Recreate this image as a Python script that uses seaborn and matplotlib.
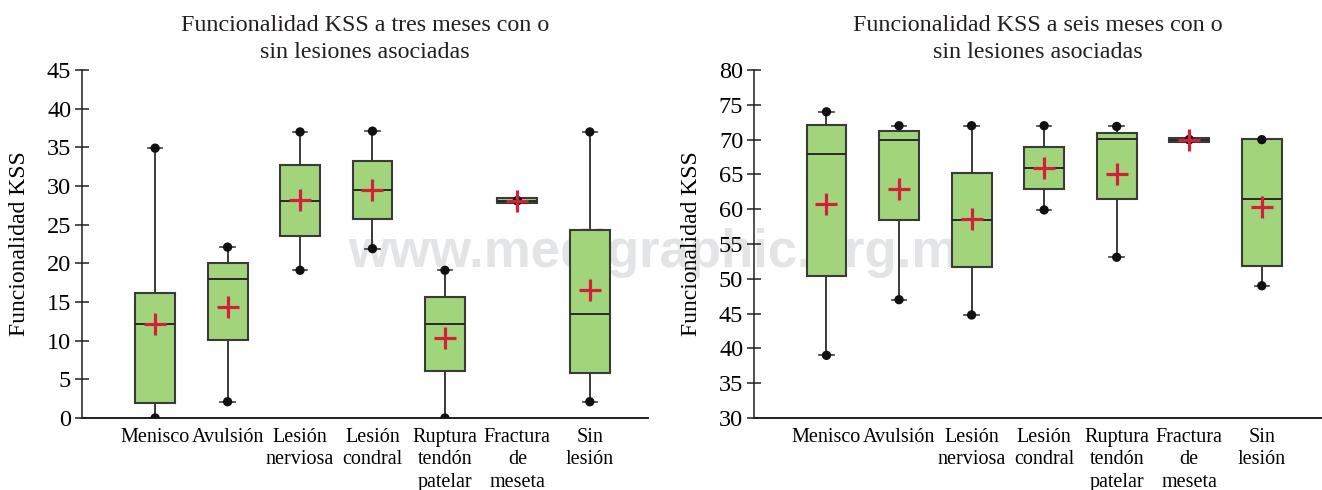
import numpy as np
import matplotlib.pyplot as plt
import pandas as pd
import seaborn as sns

# categories (x tick labels)
groups = ["Menisco", "Avulsión", "Lesión\nnerviosa", "Lesión\ncondral",
          "Ruptura\ntendón\npatelar", "Fractura\nde\nmeseta", "Sin\nlesión"]

# values: whisker ends (dots), Q1, median, Q3, mean
tres_min = [0.0, 2.1, 19.1, 21.9, 0.0, 28.1, 2.1]
tres_q1 = [1.9, 10.05, 23.6, 25.7, 6.1, 27.8, 5.8]
tres_med = [12.1, 18.0, 28.1, 29.5, 12.1, 28.1, 13.5]
tres_q3 = [16.2, 20.1, 32.7, 33.2, 15.7, 28.4, 24.3]
tres_max = [34.9, 22.1, 37.0, 37.1, 19.1, 28.1, 37.0]
tres_mean = [12.2, 14.3, 28.2, 29.5, 10.4, 28.1, 16.6]

seis_min = [39.0, 47.0, 44.8, 59.9, 53.1, 70.0, 49.0]
seis_q1 = [50.45, 58.5, 51.7, 62.9, 61.5, 69.7, 51.8]
seis_med = [68.0, 70.0, 58.5, 65.9, 70.1, 70.0, 61.5]
seis_q3 = [72.1, 71.2, 65.2, 68.9, 70.9, 70.3, 70.1]
seis_max = [74.0, 72.0, 72.0, 72.0, 71.9, 70.0, 70.0]
seis_mean = [60.8, 62.9, 58.6, 65.9, 65.0, 70.0, 60.3]

titles = ["Funcionalidad KSS a tres meses con o\nsin lesiones asociadas",
          "Funcionalidad KSS a seis meses con o\nsin lesiones asociadas"]

plt.rcParams['font.family'] = ['Liberation Serif', 'DejaVu Serif']
plt.rcParams['text.color'] = '#231f20'

fig = plt.figure(figsize=(13.22, 4.9), dpi=100)
ax1 = fig.add_axes([0.062, 0.147, 0.428, 0.710])
ax2 = fig.add_axes([0.5703, 0.147, 0.4297, 0.710])

# watermark behind everything
fig.text(0.505, 0.455, "www.medigraphic.org.mx", fontsize=38, fontweight='bold',
         family='Liberation Sans', color='#e3e4e6',
         ha='center', va='baseline', zorder=-5)

panels = [
    (ax1, tres_min, tres_q1, tres_med, tres_q3, tres_max, tres_mean, (0, 45), (-1.01, 6.8)),
    (ax2, seis_min, seis_q1, seis_med, seis_q3, seis_max, seis_mean, (30, 80), (-1.0, 6.83)),
]

for i, (ax, mn, q1, md, q3, mx, mean, ylim, xlim) in enumerate(panels):
    ax.set_facecolor('none')
    # long table: with 5 values per group the quartiles equal the given summaries
    rows = []
    for g, a, b, c, d, e in zip(groups, mn, q1, md, q3, mx):
        for v in (min(a, b), b, c, d, max(d, e)):
            rows.append({"grupo": g, "KSS": v})
    df = pd.DataFrame(rows)
    ends = pd.DataFrame({"grupo": groups * 2, "KSS": list(mn) + list(mx)})
    means = pd.DataFrame({"grupo": groups, "KSS": mean})

    sns.boxplot(data=df, x="grupo", y="KSS", order=groups, ax=ax, whis=(0, 100),
                width=0.55, color='#a2d47b', saturation=1, linecolor='#3a3a3a',
                linewidth=1.5, showfliers=False, capwidths=0.2,
                medianprops=dict(color='#2a2a2a', linewidth=1.4),
                whiskerprops=dict(color='#3a3a3a', linewidth=1.4),
                capprops=dict(color='#3a3a3a', linewidth=1.2))
    sns.scatterplot(data=ends, x="grupo", y="KSS", ax=ax, color='#111111',
                    s=45, edgecolor='none', zorder=4)
    sns.scatterplot(data=means, x="grupo", y="KSS", ax=ax, color='#d0203a',
                    marker='+', s=230, linewidth=2.3, zorder=5)

    ax.set_xlim(*xlim)
    ax.set_ylim(*ylim)
    ax.set_yticks(np.arange(ylim[0], ylim[1] + 1, 5))
    ax.tick_params(axis='y', direction='inout', length=9.5, width=1.1,
                   labelsize=17.5, pad=3, color='#231f20')
    ax.tick_params(axis='x', length=0, labelsize=14.5, pad=7)
    for lab in ax.get_xticklabels():
        lab.set_linespacing(1.25)
    sns.despine(ax=ax)
    ax.spines['left'].set_linewidth(1.1)
    ax.spines['bottom'].set_linewidth(1.4)
    ax.spines['left'].set_color('#231f20')
    ax.spines['bottom'].set_color('#231f20')
    ax.set_xlabel("")
    ax.set_ylabel("Funcionalidad KSS", fontsize=17)
    ax.yaxis.set_label_coords(-0.092, 0.5)
    ax.set_title(titles[i], fontsize=17.3, pad=9, linespacing=1.32)

fig.savefig("out.png", dpi=100)
